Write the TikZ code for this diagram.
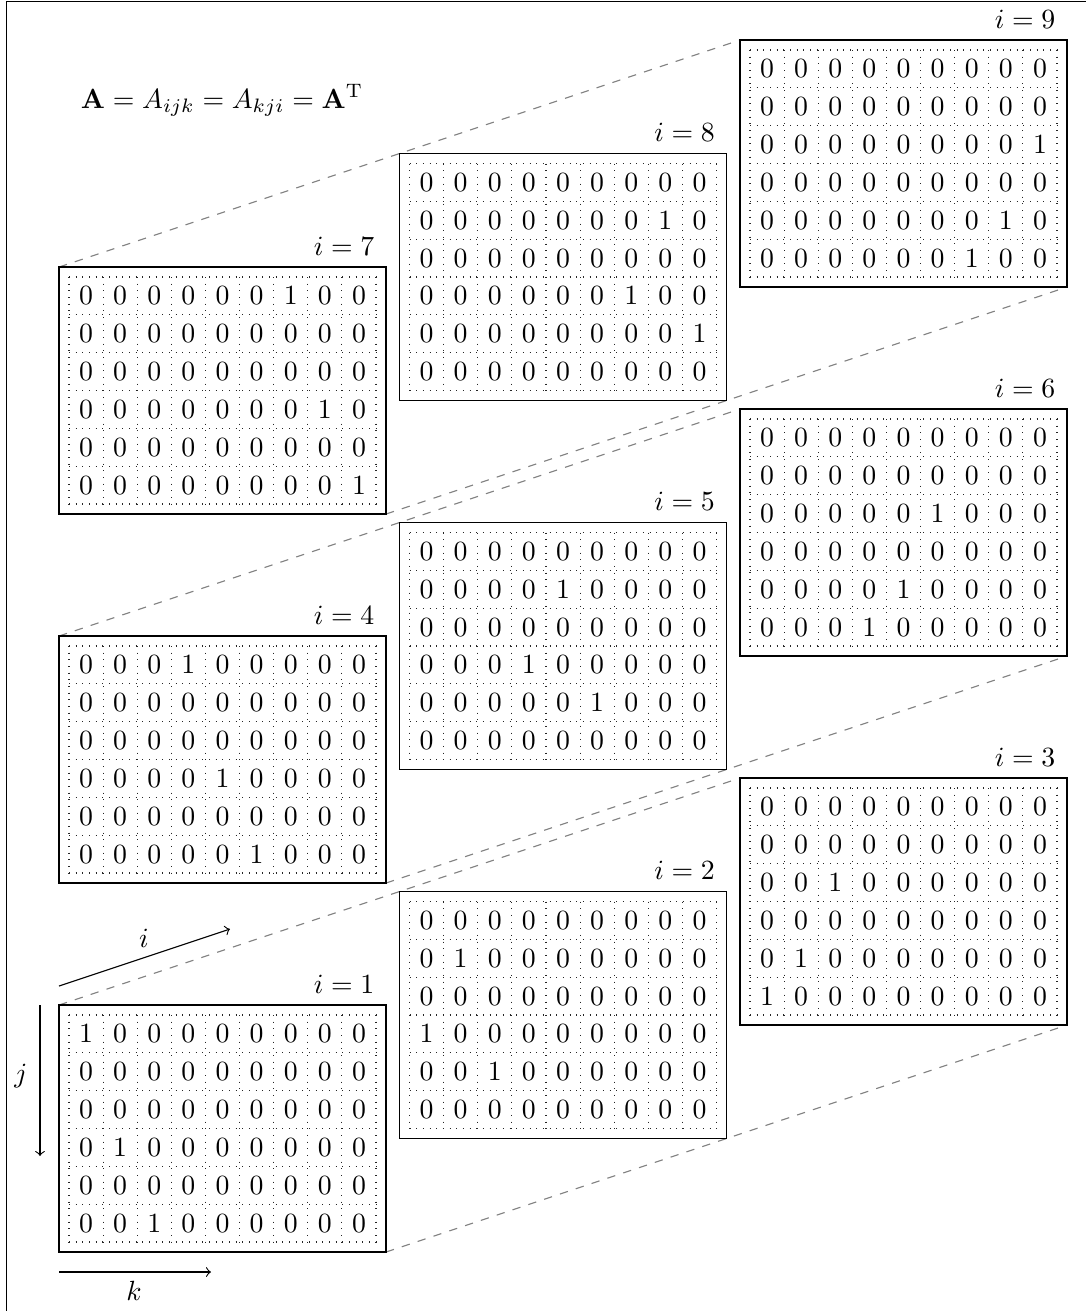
\documentclass[tikz,border=0pt]{standalone}
\usetikzlibrary{calc}
\tikzset{
  slab/.style={draw, fill=white, minimum width=117.72pt, minimum height=88.92pt,
    inner sep=0pt, outer sep=0pt, anchor=north west},
  celldot/.style={dotted, black!85},
  digit/.style={inner sep=0pt},
  slablabel/.style={anchor=south east, inner sep=4pt},
  guide/.style={dashed, gray},
  axisarrow/.style={->},
}
\newcommand\drawslab[5]{%
  \node[slab] (#1) at (#2,#3) {};
  \node[slablabel] (#1-lab) at (#1.north east) {$i=#4$};
  \foreach \cc in {0,...,9}
    \draw[celldot] ($(#1.north west)+(10+34.111*\cc,10)$) -- ++(0,227);
  \foreach \rr in {0,...,6}
    \draw[celldot] ($(#1.north west)+(10,10+37.833*\rr)$) -- ++(307,0);
  \foreach \row [count=\r] in {#5} {
    \foreach \v [count=\c] in \row {
      \node[digit] (#1-\r-\c) at ($(#1.north west)+(34.111*\c-7.056,37.833*\r-8.917)$) {$\v$};
    }
  }
}
\begin{document}
\begin{tikzpicture}[x=0.36pt,y=-0.36pt]
\useasboundingbox (0,0) rectangle (1086,1311);
\draw (6.5,1311) -- (6.5,1.5) -- (1086,1.5);

\node[anchor=base] (formula) at (222,108) {$\mathbf{A} = A_{ijk} = A_{kji} = \mathbf{A}^{\mathrm{T}}$};

% boxes placed first as coordinates for guides
\coordinate (p1) at (59,1005);
\coordinate (p4) at (59,636);
\coordinate (p7) at (59,267);

% guide lines (drawn behind slabs) between corner coordinates
\coordinate (g1a) at (59,1005);   \coordinate (g1b) at (740,778);
\coordinate (g1c) at (386,1252);  \coordinate (g1d) at (1067,1025);
\coordinate (g4a) at (59,636);    \coordinate (g4b) at (740,409);
\coordinate (g4c) at (386,883);   \coordinate (g4d) at (1067,656);
\coordinate (g7a) at (59,267);    \coordinate (g7b) at (740,40);
\coordinate (g7c) at (386,514);   \coordinate (g7d) at (1067,287);
\draw[guide] (g1a) -- (g1b);
\draw[guide] (g1c) -- (g1d);
\draw[guide] (g4a) -- (g4b);
\draw[guide] (g4c) -- (g4d);
\draw[guide] (g7a) -- (g7b);
\draw[guide] (g7c) -- (g7d);

\drawslab{s1}{59}{1005}{1}{{1,0,0,0,0,0,0,0,0},{0,0,0,0,0,0,0,0,0},{0,0,0,0,0,0,0,0,0},{0,1,0,0,0,0,0,0,0},{0,0,0,0,0,0,0,0,0},{0,0,1,0,0,0,0,0,0}}
\drawslab{s2}{399.5}{891.5}{2}{{0,0,0,0,0,0,0,0,0},{0,1,0,0,0,0,0,0,0},{0,0,0,0,0,0,0,0,0},{1,0,0,0,0,0,0,0,0},{0,0,1,0,0,0,0,0,0},{0,0,0,0,0,0,0,0,0}}
\drawslab{s3}{740}{778}{3}{{0,0,0,0,0,0,0,0,0},{0,0,0,0,0,0,0,0,0},{0,0,1,0,0,0,0,0,0},{0,0,0,0,0,0,0,0,0},{0,1,0,0,0,0,0,0,0},{1,0,0,0,0,0,0,0,0}}
\drawslab{s4}{59}{636}{4}{{0,0,0,1,0,0,0,0,0},{0,0,0,0,0,0,0,0,0},{0,0,0,0,0,0,0,0,0},{0,0,0,0,1,0,0,0,0},{0,0,0,0,0,0,0,0,0},{0,0,0,0,0,1,0,0,0}}
\drawslab{s5}{399.5}{522.5}{5}{{0,0,0,0,0,0,0,0,0},{0,0,0,0,1,0,0,0,0},{0,0,0,0,0,0,0,0,0},{0,0,0,1,0,0,0,0,0},{0,0,0,0,0,1,0,0,0},{0,0,0,0,0,0,0,0,0}}
\drawslab{s6}{740}{409}{6}{{0,0,0,0,0,0,0,0,0},{0,0,0,0,0,0,0,0,0},{0,0,0,0,0,1,0,0,0},{0,0,0,0,0,0,0,0,0},{0,0,0,0,1,0,0,0,0},{0,0,0,1,0,0,0,0,0}}
\drawslab{s7}{59}{267}{7}{{0,0,0,0,0,0,1,0,0},{0,0,0,0,0,0,0,0,0},{0,0,0,0,0,0,0,0,0},{0,0,0,0,0,0,0,1,0},{0,0,0,0,0,0,0,0,0},{0,0,0,0,0,0,0,0,1}}
\drawslab{s8}{399.5}{153.5}{8}{{0,0,0,0,0,0,0,0,0},{0,0,0,0,0,0,0,1,0},{0,0,0,0,0,0,0,0,0},{0,0,0,0,0,0,1,0,0},{0,0,0,0,0,0,0,0,1},{0,0,0,0,0,0,0,0,0}}
\drawslab{s9}{740}{40}{9}{{0,0,0,0,0,0,0,0,0},{0,0,0,0,0,0,0,0,0},{0,0,0,0,0,0,0,0,1},{0,0,0,0,0,0,0,0,0},{0,0,0,0,0,0,0,1,0},{0,0,0,0,0,0,1,0,0}}

% axis arrows
\coordinate (ia) at (59,986);  \coordinate (ib) at (230,929);
\coordinate (ja) at (40,1005); \coordinate (jb) at (40,1156);
\coordinate (ka) at (59,1272); \coordinate (kb) at (211,1272);
\draw[axisarrow] (ia) -- (ib);
\draw[axisarrow] (ja) -- (jb);
\draw[axisarrow] (ka) -- (kb);
\node (ilab) at (144,938) {$i$};
\node (jlab) at (21,1076) {$j$};
\node (klab) at (134,1291) {$k$};
\end{tikzpicture}
\end{document}
